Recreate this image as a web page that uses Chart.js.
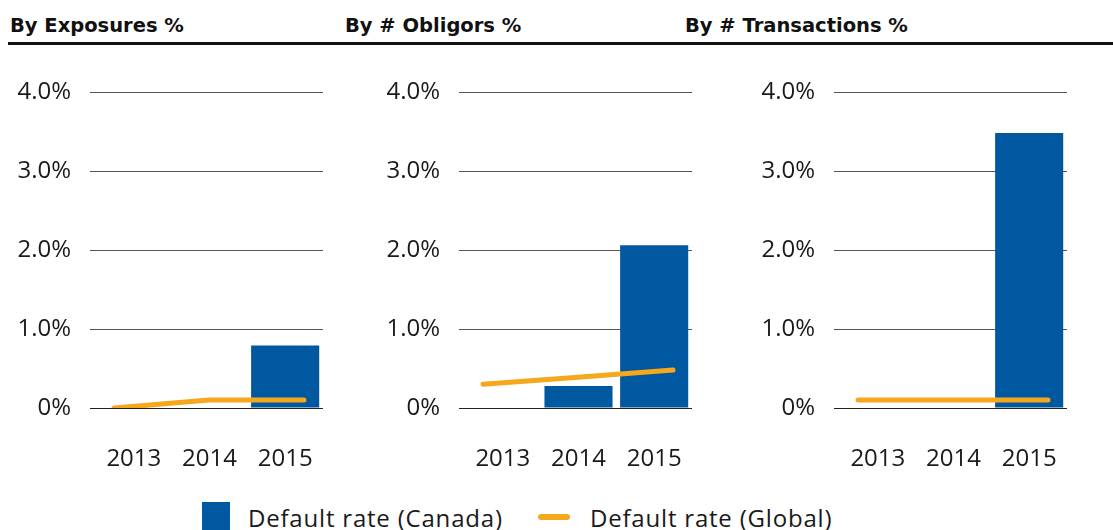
<!DOCTYPE html>
<html>
<head>
<meta charset="utf-8">
<script src="https://cdn.jsdelivr.net/npm/chart.js@4.4.1/dist/chart.umd.min.js"></script>
<style>
  html, body { margin: 0; padding: 0; background: #fff; }
  body { width: 1113px; height: 530px; position: relative; overflow: hidden; font-family: 'Open Sans', sans-serif; }
  .title { position: absolute; top: 14px; font-family: 'DejaVu Sans', sans-serif; font-weight: 700; font-size: 19.5px; color: #111; }
  .rule { position: absolute; left: 8px; right: 0; top: 42px; height: 3px; background: #111; }
  .panel { position: absolute; top: 50px; width: 340px; height: 430px; }
  .legend { position: absolute; top: 502px; left: 202px; font-size: 24px; letter-spacing: 0.8px; color: #1a1a1a; }
  .legend span { position: absolute; white-space: nowrap; }
</style>
</head>
<body>
<div class="title" style="left:10px">By Exposures %</div>
<div class="title" style="left:345px">By # Obligors %</div>
<div class="title" style="left:685px">By # Transactions %</div>
<div class="rule"></div>

<div class="panel" style="left:0px"><canvas id="c1"></canvas></div>
<div class="panel" style="left:369px"><canvas id="c2"></canvas></div>
<div class="panel" style="left:744px"><canvas id="c3"></canvas></div>

<div class="legend">
  <span style="left:0; top:0; width:28px; height:30px; background:#0059A0"></span>
  <span style="left:46px; top:-1px">Default rate (Canada)</span>
  <span style="left:336px; top:12px; width:32px; height:6px; border-radius:3px; background:#F5A81C"></span>
  <span style="left:388px; top:-1px">Default rate (Global)</span>
</div>

<script>
const years = ['2013', '2014', '2015'];
const yTicks = ['0%', '1.0%', '2.0%', '3.0%', '4.0%'];

// values in %
const exposuresCanada = [null, null, 0.79];
const exposuresGlobal = [0.0, 0.1, 0.1];
const obligorsCanada = [null, 0.28, 2.06];
const obligorsGlobal = [0.3, 0.39, 0.48];
const transactionsCanada = [null, null, 3.48];
const transactionsGlobal = [0.1, 0.1, 0.1];

const BLUE = '#0059A0';
const ORANGE = '#F5A81C';
const tickFont = { family: 'Open Sans, sans-serif', size: 24, weight: '400' };

function makePanel(id, canada, global) {
    const ctx = document.getElementById(id);
    return new Chart(ctx.getContext('2d'), {
        type: 'bar',
        data: {
            labels: years,
            datasets: [
                {
                    type: 'line',
                    label: 'Default rate (Global)',
                    // the global line sits on its own, slightly wider x range
                    data: global.map((v, i) => ({ x: i, y: v })),
                    xAxisID: 'x2',
                    borderColor: ORANGE,
                    borderWidth: 5,
                    borderCapStyle: 'round',
                    borderJoinStyle: 'round',
                    pointRadius: 0,
                    tension: 0,
                    order: 0
                },
                {
                    label: 'Default rate (Canada)',
                    data: canada,
                    backgroundColor: BLUE,
                    grouped: false,
                    categoryPercentage: 1,
                    barPercentage: 0.9,
                    order: 1
                }
            ]
        },
        options: {
            responsive: true,
            maintainAspectRatio: false,
            animation: false,
            layout: { padding: { top: 42, right: 17, left: 0, bottom: 0 } },
            plugins: { legend: { display: false }, tooltip: { enabled: false } },
            scales: {
                x: {
                    grid: { drawOnChartArea: false, drawTicks: true, tickLength: 37, tickColor: 'rgba(0,0,0,0)' },
                    border: { display: false },
                    ticks: { color: '#1a1a1a', font: tickFont, padding: 0, maxRotation: 0 },
                    afterFit: (s) => { s.height = 72; }
                },
                x2: {
                    type: 'linear',
                    display: false,
                    offset: false,
                    min: -0.19,
                    max: 2.2
                },
                y: {
                    min: 0,
                    max: 4,
                    border: { display: false },
                    grid: {
                        color: (c) => c.tick.value === 0 ? '#222' : '#555',
                        lineWidth: 1,
                        drawTicks: true,
                        tickLength: 6
                    },
                    ticks: {
                        stepSize: 1,
                        color: '#1a1a1a',
                        font: tickFont,
                        padding: 19,
                        callback: (v) => yTicks[v]
                    },
                    afterFit: (s) => { s.width = 96; }
                }
            }
        }
    });
}

makePanel('c1', exposuresCanada, exposuresGlobal);
makePanel('c2', obligorsCanada, obligorsGlobal);
makePanel('c3', transactionsCanada, transactionsGlobal);
</script>
</body>
</html>
